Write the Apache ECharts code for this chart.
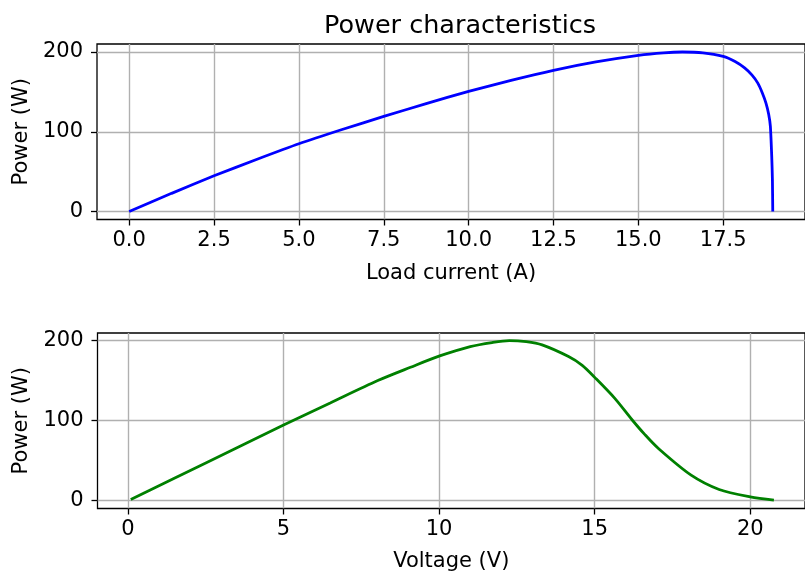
<!DOCTYPE html>
<html>
<head>
<meta charset="utf-8">
<script src="https://cdn.jsdelivr.net/npm/echarts@6/dist/echarts.min.js"></script>
<style>
html, body { margin: 0; padding: 0; background: #fff; }
#chart { width: 805px; height: 574px; }
</style>
</head>
<body>
<div id="chart"></div>
<script>
// upper plot: load current (A) -> power (W)
var currentA = [0, 1.25, 2.5, 3.75, 5, 6.25, 7.5, 8.75, 10, 11.25, 12.5, 13.75, 15, 15.75,
    16.3, 16.9, 17.5, 17.85, 18.13, 18.35, 18.52, 18.65, 18.76, 18.84, 18.89, 18.93, 18.95, 18.96];
var powerByCurrent = [0, 22.8, 44.8, 65.2, 84.9, 102.5, 119.2, 135.2, 150.6, 164.4, 177, 187.5, 195.8, 199,
    200, 199, 194.5, 188, 180, 171, 161, 149, 136, 122, 106.7, 69, 40, 0];

// lower plot: voltage (V) -> power (W)
var voltageV = [0.09, 2.5, 5, 6.5, 8.03, 9.08, 10.02, 11, 11.7, 12.26, 12.8, 13.31, 14.16, 14.6, 15, 15.64,
    16.2, 16.6, 17.05, 18.1, 19, 20, 20.76];
var powerByVoltage = [1.3, 47, 94.4, 122, 150, 166.6, 180.8, 192.5, 197.6, 200, 198.6, 194.6, 180, 169, 154, 128,
    101, 83, 65, 31.7, 13.8, 4.5, 0.5];

// tick values
var currentTicks = [0, 2.5, 5, 7.5, 10, 12.5, 15, 17.5];
var voltageTicks = [0, 5, 10, 15, 20];
var powerTicks = [0, 100, 200];

var FONT = 'DejaVu Sans';

function pairs(xs, ys) {
    return xs.map(function (x, i) { return [x, ys[i]]; });
}

// matplotlib-like axis
function axis(gridIndex, min, max, ticks, name, gap, margin, fmt) {
    return {
        type: 'value',
        gridIndex: gridIndex,
        min: min,
        max: max,
        name: name,
        nameLocation: 'middle',
        nameGap: gap,
        nameTextStyle: { color: '#000', fontFamily: FONT, fontSize: 21 },
        axisLine: { show: false, onZero: false },
        axisTick: {
            show: true, inside: false, length: 6, customValues: ticks,
            lineStyle: { color: '#000', width: 1.3 }
        },
        axisLabel: {
            customValues: ticks, margin: margin, color: '#000',
            fontFamily: FONT, fontSize: 21, formatter: fmt
        },
        splitLine: { show: true, lineStyle: { color: '#b0b0b0', width: 1.4 } }
    };
}

var myChart = echarts.init(document.getElementById('chart'));
var option = {
    backgroundColor: '#fff',
    animation: false,
    title: {
        text: 'Power characteristics',
        left: 455, top: 8, textAlign: 'center',
        textStyle: { color: '#000', fontFamily: FONT, fontSize: 25.5, fontWeight: 'normal' }
    },
    grid: [
        { left: 97, top: 44, width: 716, height: 175.5, show: true, borderColor: '#000', borderWidth: 1.3 },
        { left: 97.5, top: 333, width: 716, height: 175.5, show: true, borderColor: '#000', borderWidth: 1.3 }
    ],
    xAxis: [
        axis(0, -0.948, 19.91, currentTicks, 'Load current (A)', 43.5, 11, function (v) { return v.toFixed(1); }),
        axis(1, -0.98, 21.76, voltageTicks, 'Voltage (V)', 43, 11, function (v) { return String(v); })
    ],
    yAxis: [
        axis(0, -10, 210, powerTicks, 'Power (W)', 65, 14, function (v) { return String(v); }),
        axis(1, -10, 209.5, powerTicks, 'Power (W)', 65, 14, function (v) { return String(v); })
    ],
    series: [
        {
            type: 'line', xAxisIndex: 0, yAxisIndex: 0,
            data: pairs(currentA, powerByCurrent),
            showSymbol: false, smooth: 0.2,
            lineStyle: { color: '#0000ff', width: 2.8 }
        },
        {
            type: 'line', xAxisIndex: 1, yAxisIndex: 1,
            data: pairs(voltageV, powerByVoltage),
            showSymbol: false, smooth: 0.3,
            lineStyle: { color: '#008000', width: 2.8 }
        }
    ]
};
myChart.setOption(option);
</script>
</body>
</html>
